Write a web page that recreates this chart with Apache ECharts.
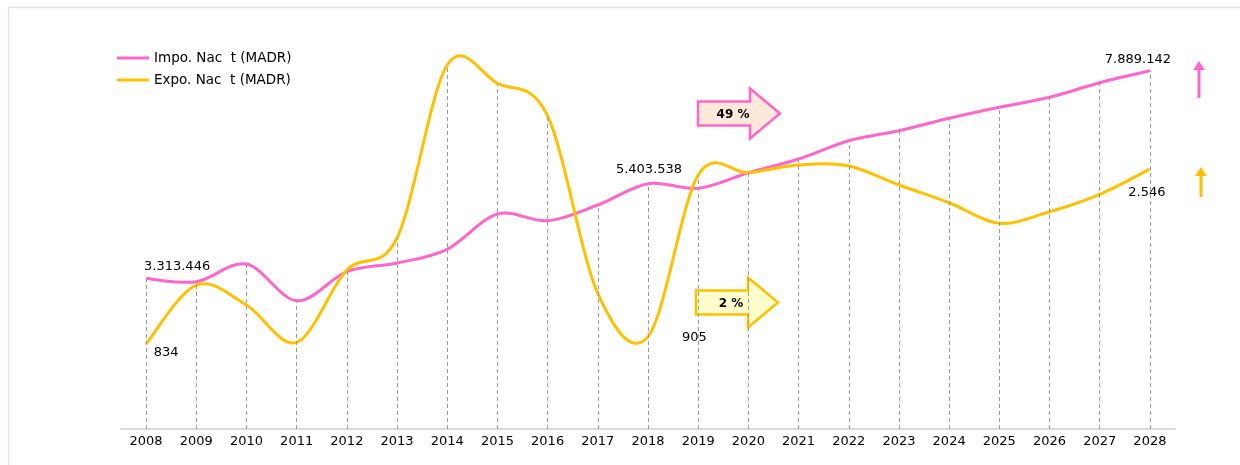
<!DOCTYPE html>
<html>
<head>
<meta charset="utf-8">
<script src="https://cdn.jsdelivr.net/npm/echarts@6/dist/echarts.min.js"></script>
<style>
  html, body { margin: 0; padding: 0; background: #fff; }
  #chart { width: 1240px; height: 465px; }
</style>
</head>
<body>
<div id="chart"></div>
<script>
// 年份
const years = ['2008', '2009', '2010', '2011', '2012', '2013', '2014', '2015', '2016', '2017', '2018',
  '2019', '2020', '2021', '2022', '2023', '2024', '2025', '2026', '2027', '2028'];
// 进口 (MADR)
const impoValues = [3313446, 3244000, 3634000, 2826000, 3465000, 3656000, 3958000, 4736000, 4588000, 4934000, 5403538,
  5302000, 5645000, 5947000, 6350000, 6570000, 6844000, 7086000, 7306000, 7628000, 7889142];
// 出口 (MADR)
const expoValues = [834, 1410, 1214, 849, 1557, 1871, 3565, 3386, 3066, 1329, 905,
  2488, 2510, 2586, 2576, 2390, 2216, 2015, 2128, 2299, 2546];
// 标注
const impoNames = 'Impo. Nac  t (MADR)';
const expoNames = 'Expo. Nac  t (MADR)';
const impoGrowth = '49 %';
const expoGrowth = '2 %';

const PINK = '#FF66CC';
const GOLD = '#FFC000';
const FONT = 'DejaVu Sans';

const fmt = (v) => String(v).replace(/\B(?=(\d{3})+(?!\d))/g, '.');

// 垂线 (drop lines)
function dropLines(values) {
  return values.map((v, i) => [{ coord: [years[i], 0] }, { coord: [years[i], v] }]);
}

// 数据标签
function labelled(values, cfg) {
  return values.map((v, i) => {
    if (cfg[i]) {
      return {
        value: v,
        label: Object.assign({
          show: true, formatter: fmt(v), color: '#000', fontSize: 13, fontFamily: FONT
        }, cfg[i])
      };
    }
    return v;
  });
}

const impoData = labelled(impoValues, {
  0: { position: 'top', offset: [31, 0] },
  10: { position: 'top', offset: [1, -3] },
  20: { position: 'top', offset: [-12, 0] }
});
const expoData = labelled(expoValues, {
  0: { position: 'bottom', offset: [20, -3] },
  10: { position: 'right', offset: [29, 1] },
  20: { position: 'bottom', offset: [-3, 12] }
});

// 平滑曲线 (Catmull-Rom, 类似 Excel)
function curveSeries(name, values, yAxisIndex, color, z) {
  return {
    name: name, type: 'custom', yAxisIndex: yAxisIndex, z: z,
    data: values.map((v, i) => [i, v]),
    encode: { x: 0, y: 1 },
    itemStyle: { color: color },
    renderItem(params, api) {
      if (params.dataIndex !== 0) return null;
      const pts = values.map((v, i) => api.coord([i, v]));
      let d = 'M' + pts[0][0] + ',' + pts[0][1];
      for (let i = 0; i < pts.length - 1; i++) {
        const p0 = pts[i - 1] || pts[i];
        const p1 = pts[i];
        const p2 = pts[i + 1];
        const p3 = pts[i + 2] || pts[i + 1];
        const c1 = [p1[0] + (p2[0] - p0[0]) / 6, p1[1] + (p2[1] - p0[1]) / 6];
        const c2 = [p2[0] - (p3[0] - p1[0]) / 6, p2[1] - (p3[1] - p1[1]) / 6];
        d += ' C' + c1.join(',') + ' ' + c2.join(',') + ' ' + p2.join(',');
      }
      return {
        type: 'path',
        shape: { pathData: d },
        style: { fill: 'none', stroke: color, lineWidth: 3, lineJoin: 'round' }
      };
    }
  };
}

// 标签和垂线
function markSeries(name, data, values, yAxisIndex) {
  return {
    name: name, type: 'line', yAxisIndex: yAxisIndex, data: data,
    symbol: 'circle', symbolSize: 0, showSymbol: true, z: 5,
    lineStyle: { width: 0, opacity: 0 },
    itemStyle: { color: 'rgba(0,0,0,0)' },
    markLine: {
      silent: true, symbol: 'none', label: { show: false },
      lineStyle: { color: '#9a9a9a', type: [4, 3], width: 1 },
      data: dropLines(values)
    }
  };
}

function blockArrow(x, y, stroke, fill, text) {
  // x,y: 箭头左上角
  return {
    type: 'group',
    children: [
      {
        type: 'polygon',
        shape: {
          points: [[x, y + 13], [x + 52, y + 13], [x + 52, y], [x + 82, y + 25],
            [x + 52, y + 50], [x + 52, y + 37], [x, y + 37]]
        },
        style: { fill: fill, stroke: stroke, lineWidth: 2.5 }
      },
      {
        type: 'text',
        x: x + 35, y: y + 26,
        style: {
          text: text, fill: '#000', font: 'bold 12px "' + FONT + '"',
          align: 'center', verticalAlign: 'middle'
        }
      }
    ]
  };
}

function upArrow(cx, top, bottom, color) {
  return {
    type: 'group',
    children: [
      { type: 'rect', shape: { x: cx - 1.5, y: top + 8, width: 3, height: bottom - top - 8 }, style: { fill: color } },
      { type: 'polygon', shape: { points: [[cx - 6, top + 9], [cx + 6, top + 9], [cx, top]] }, style: { fill: color } }
    ]
  };
}

const chart = echarts.init(document.getElementById('chart'));

chart.setOption({
  backgroundColor: '#fff',
  animation: false,
  textStyle: { fontFamily: FONT },
  grid: { left: 121, right: 65, top: 40, bottom: 36 },
  legend: {
    left: 117, top: 51, orient: 'vertical', padding: 0, itemGap: 8,
    itemWidth: 32, itemHeight: 3, icon: 'rect',
    textStyle: { color: '#000', fontSize: 13.5, fontFamily: FONT },
    data: [impoNames, expoNames]
  },
  xAxis: {
    type: 'category',
    data: years,
    boundaryGap: true,
    axisLine: { lineStyle: { color: '#d9d9d9', width: 2 } },
    axisTick: { show: false },
    axisLabel: { color: '#000', fontSize: 13, fontFamily: FONT, margin: 6, interval: 0 },
    splitLine: { show: false }
  },
  yAxis: [
    { type: 'value', min: 0, max: 8568000, show: false, splitLine: { show: false } },
    { type: 'value', min: 0, max: 3810, show: false, splitLine: { show: false } }
  ],
  series: [
    curveSeries(impoNames, impoValues, 0, PINK, 3),
    curveSeries(expoNames, expoValues, 1, GOLD, 4),
    markSeries('impoMarks', impoData, impoValues, 0),
    markSeries('expoMarks', expoData, expoValues, 1)
  ],
  graphic: [
    { type: 'rect', shape: { x: 8.5, y: 7.5, width: 1300, height: 500 }, style: { fill: 'none', stroke: '#e3e3e3', lineWidth: 1.5 }, z: -1 },
    blockArrow(698, 88.5, PINK, '#FDE9D9', impoGrowth),
    blockArrow(696, 277.5, GOLD, '#FFFFCC', expoGrowth),
    upArrow(1199, 61, 98, PINK),
    upArrow(1201, 167, 197, GOLD)
  ]
});
</script>
</body>
</html>
